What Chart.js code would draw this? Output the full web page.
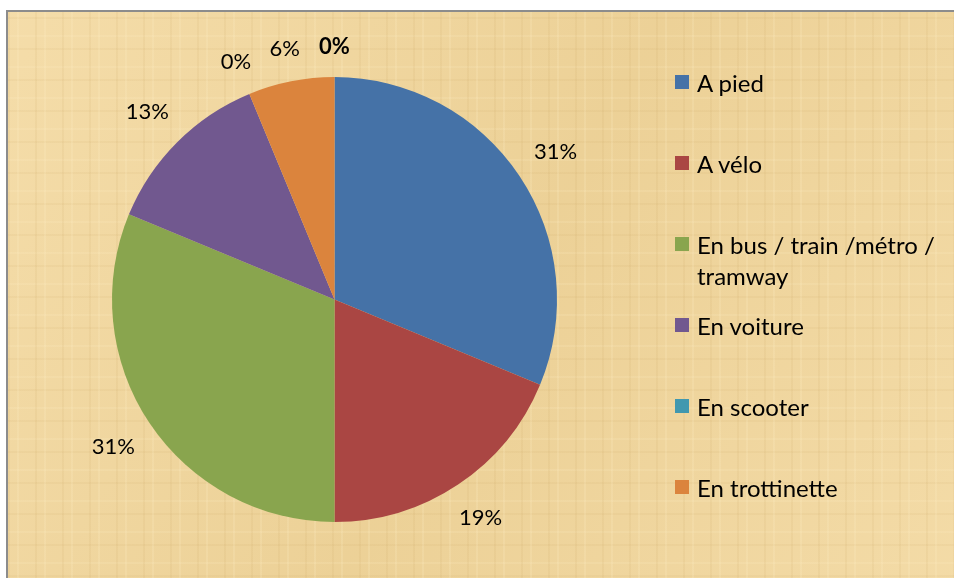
<!DOCTYPE html>
<html>
<head>
<meta charset="utf-8">
<script src="https://cdn.jsdelivr.net/npm/chart.js@4/dist/chart.umd.min.js"></script>
<style>
  html, body { margin: 0; padding: 0; background: #fff; overflow: hidden; width: 954px; height: 578px; }
  #frame {
    position: absolute; left: 6px; top: 10px; right: -30px; bottom: -30px;
    border-left: 2px solid #8c8c8c; border-top: 2px solid #8c8c8c;
    background-color: #efd59e;
    background-image:
      repeating-linear-gradient(90deg, rgba(190,150,80,0.09) 0 2px, transparent 2px 9px, rgba(255,240,200,0.18) 9px 11px, transparent 11px 27px),
      repeating-linear-gradient(0deg, rgba(190,150,80,0.08) 0 2px, transparent 2px 13px, rgba(255,240,200,0.15) 13px 15px, transparent 15px 31px),
      linear-gradient(120deg, rgba(255,235,190,0.35), rgba(220,185,110,0.15) 50%, rgba(255,235,190,0.3));
  }
  #wrap { position: absolute; left: 0; top: 0; width: 954px; height: 578px; }
  #legend {
    position: absolute; left: 675px; top: 67px; width: 275px;
    font-family: Lato, "Open Sans", sans-serif; font-size: 24px; color: #000;
  }
  .item { height: 81px; display: flex; align-items: flex-start; }
  .box { width: 14px; height: 14px; margin-top: 8px; margin-right: 8px; flex: none; }
  .txt { line-height: 31px; }
</style>
</head>
<body>
<div id="frame"></div>
<div id="wrap"><canvas id="pie" width="954" height="578"></canvas></div>
<div id="legend"></div>
<script>
// données (16 réponses)
const categories = ['A pied', 'A vélo', 'En bus / train /métro / tramway', 'En voiture', 'En scooter', 'En trottinette', ''];
const counts = [5, 3, 5, 2, 0, 1, 0];
const colors = ['#4572a7', '#aa4643', '#89a54e', '#71588f', '#4198af', '#db843d', '#93a9cf'];

const total = counts.reduce((a, b) => a + b, 0);
const percentLabels = counts.map(v => Math.round(v / total * 100) + '%');

// étiquettes de pourcentage autour du camembert
const pieLabels = {
    id: 'pieLabels',
    afterDatasetsDraw(chart, args, opts) {
        const ctx = chart.ctx;
        const meta = chart.getDatasetMeta(0);
        ctx.save();
        ctx.fillStyle = '#000';
        ctx.textAlign = 'center';
        ctx.textBaseline = 'middle';
        meta.data.forEach((arc, i) => {
            const p = arc.getProps(['x', 'y', 'startAngle', 'endAngle', 'outerRadius'], true);
            const a = (p.startAngle + p.endAngle) / 2;
            ctx.font = (opts.bold.includes(i) ? 'bold ' : '') + opts.size + 'px Lato, "Open Sans", sans-serif';
            const w = ctx.measureText(percentLabels[i]).width;
            const cx = Math.cos(a), cy = Math.sin(a);
            const r = p.outerRadius + opts.gap + Math.abs(cx) * w / 2 + Math.abs(cy) * opts.size * 0.45;
            ctx.fillText(percentLabels[i], p.x + cx * r, p.y + cy * r);
        });
        ctx.restore();
    }
};

new Chart(document.getElementById('pie').getContext('2d'), {
    type: 'pie',
    data: {
        labels: categories,
        datasets: [{ data: counts, backgroundColor: colors, borderWidth: 0 }]
    },
    options: {
        responsive: false,
        animation: false,
        layout: { padding: { left: 112, right: 397, top: 77, bottom: 56 } },
        plugins: {
            legend: { display: false },
            tooltip: { enabled: false },
            pieLabels: { gap: 20, size: 22, bold: [6] }
        }
    },
    plugins: [pieLabels]
});

// légende à droite
const legend = document.getElementById('legend');
categories.forEach((name, i) => {
    if (!name) return;
    const item = document.createElement('div');
    item.className = 'item';
    item.innerHTML = `<span class="box" style="background:${colors[i]}"></span><span class="txt">${name}</span>`;
    legend.appendChild(item);
});
</script>
</body>
</html>
